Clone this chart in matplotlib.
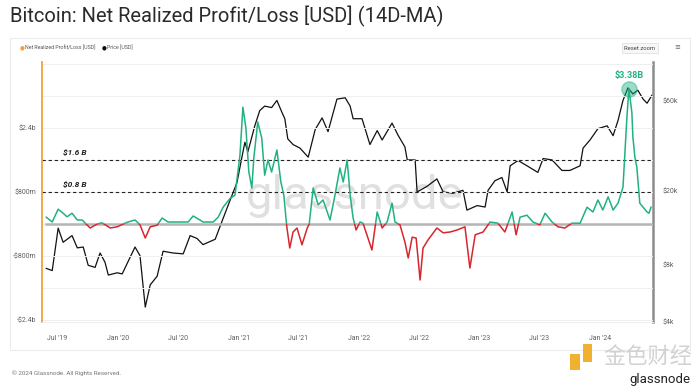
import numpy as np
import pandas as pd
import matplotlib
matplotlib.use("Agg")
import matplotlib.pyplot as plt
import matplotlib.dates as mdates
from matplotlib.patches import Rectangle
from matplotlib.ticker import FixedLocator, NullLocator

# ---- data (approximate) ----
price_dates = [
    "2019-05-29", "2019-06-16", "2019-07-04", "2019-07-19", "2019-08-15", "2019-08-31",
    "2019-09-18", "2019-10-03", "2019-10-24", "2019-11-08", "2019-11-23", "2019-12-03",
    "2019-12-30", "2020-01-14", "2020-02-22", "2020-03-08", "2020-03-24", "2020-04-08",
    "2020-04-29", "2020-05-17", "2020-06-16", "2020-07-17", "2020-08-07", "2020-08-28",
    "2020-09-15", "2020-10-22", "2020-11-15", "2020-12-06", "2020-12-27", "2021-01-11",
    "2021-01-20", "2021-01-29", "2021-02-19", "2021-03-06", "2021-03-21", "2021-04-11",
    "2021-04-27", "2021-05-12", "2021-05-21", "2021-05-30", "2021-06-15", "2021-07-06",
    "2021-07-31", "2021-08-21", "2021-09-11", "2021-09-29", "2021-10-26", "2021-11-20",
    "2021-12-05", "2021-12-14", "2022-01-10", "2022-02-03", "2022-02-25", "2022-03-12",
    "2022-04-11", "2022-04-29", "2022-05-20", "2022-05-27", "2022-06-20", "2022-06-26",
    "2022-07-26", "2022-08-25", "2022-09-13", "2022-10-13", "2022-11-12", "2022-11-24",
    "2022-12-25", "2023-01-18", "2023-01-27", "2023-02-17", "2023-03-10", "2023-03-26",
    "2023-04-04", "2023-04-28", "2023-05-25", "2023-06-27", "2023-07-13", "2023-08-09",
    "2023-09-08", "2023-10-02", "2023-11-02", "2023-11-11", "2023-12-02", "2023-12-26",
    "2024-01-23", "2024-02-10", "2024-02-25", "2024-03-11", "2024-03-26", "2024-04-10",
    "2024-04-25", "2024-05-11", "2024-05-23", "2024-06-07",
]
price_usd = [
    7700, 7500, 12600, 10600, 11500, 9900,
    10000, 8000, 7800, 9300, 8300, 7100,
    7300, 7200, 10000, 9000, 4800, 6300,
    7000, 9500, 9300, 9200, 11500, 11100,
    10300, 11000, 14200, 17700, 22000, 30000,
    36000, 32000, 44000, 53000, 56000, 55000,
    60000, 52000, 48000, 37500, 35000, 33500,
    30000, 42000, 48500, 41000, 61000, 62000,
    56000, 48000, 48000, 35000, 41500, 37000,
    45500, 39300, 34000, 29000, 29000, 19600,
    21000, 23000, 19600, 19300, 20000, 15700,
    16600, 16300, 20000, 22500, 23400, 19600,
    27000, 28800, 27000, 24900, 29500, 29000,
    25500, 25500, 27000, 33500, 37000, 42500,
    44000, 39000, 47000, 60000, 70000, 65000,
    68000, 61000, 58000, 64000,
]

nrpl_dates = [
    "2019-05-29", "2019-06-16", "2019-07-04", "2019-07-19", "2019-07-31", "2019-08-15",
    "2019-08-31", "2019-09-15", "2019-09-24", "2019-10-09", "2019-10-30", "2019-11-14",
    "2019-12-09", "2019-12-30", "2020-01-17", "2020-02-01", "2020-02-22", "2020-03-08",
    "2020-03-24", "2020-04-08", "2020-04-29", "2020-05-14", "2020-06-01", "2020-07-08",
    "2020-08-01", "2020-08-16", "2020-09-06", "2020-09-15", "2020-10-16", "2020-10-31",
    "2020-11-15", "2020-12-06", "2020-12-21", "2021-01-05", "2021-01-14", "2021-01-23",
    "2021-02-01", "2021-02-10", "2021-02-16", "2021-02-28", "2021-03-12", "2021-03-21",
    "2021-03-31", "2021-04-11", "2021-04-27", "2021-05-09", "2021-05-18", "2021-05-27",
    "2021-06-05", "2021-06-15", "2021-06-27", "2021-07-12", "2021-07-28", "2021-08-03",
    "2021-08-15", "2021-08-30", "2021-09-14", "2021-10-05", "2021-10-20", "2021-11-04",
    "2021-11-14", "2021-11-26", "2021-12-05", "2021-12-14", "2021-12-23", "2022-01-04",
    "2022-01-13", "2022-01-28", "2022-02-09", "2022-02-25", "2022-03-12", "2022-03-27",
    "2022-04-11", "2022-04-20", "2022-05-05", "2022-05-20", "2022-05-30", "2022-06-11",
    "2022-06-23", "2022-07-05", "2022-07-14", "2022-07-29", "2022-08-25", "2022-09-13",
    "2022-10-04", "2022-10-25", "2022-11-18", "2022-12-03", "2022-12-19", "2023-01-12",
    "2023-02-02", "2023-02-26", "2023-03-19", "2023-04-10", "2023-04-22", "2023-05-04",
    "2023-05-25", "2023-06-12", "2023-07-03", "2023-07-19", "2023-08-09", "2023-08-27",
    "2023-09-17", "2023-10-08", "2023-11-02", "2023-11-23", "2023-12-11", "2023-12-26",
    "2024-01-10", "2024-01-26", "2024-02-10", "2024-02-25", "2024-03-11", "2024-03-23",
    "2024-03-29", "2024-04-07", "2024-04-10", "2024-04-16", "2024-04-22", "2024-05-01",
    "2024-05-11", "2024-05-23", "2024-05-29", "2024-06-04",
]
nrpl_busd = [
    0.17, 0.05, 0.37, 0.27, 0.18, 0.27,
    0.10, 0.10, 0.02, -0.10, 0.00, 0.03,
    -0.10, -0.07, 0.00, 0.05, 0.10, -0.02,
    -0.35, -0.07, -0.03, 0.15, 0.05, 0.05,
    0.05, 0.20, 0.10, 0.05, 0.05, 0.17,
    0.42, 0.64, 0.72, 1.72, 2.92, 2.40,
    1.30, 0.90, 1.65, 2.55, 2.15, 1.22,
    1.60, 1.30, 1.85, 1.05, 0.72, -0.07,
    -0.60, -0.20, -0.10, -0.52, -0.10, 0.00,
    0.90, 0.48, 0.60, 0.10, 0.72, 1.40,
    1.05, 1.60, 0.72, 0.15, -0.15, 0.05,
    0.02, -0.35, -0.65, 0.30, -0.10, 0.05,
    0.52, 0.05, -0.02, -0.45, -0.85, -0.33,
    -0.35, -1.40, -0.60, -0.40, -0.10, -0.22,
    -0.20, -0.15, -0.07, -1.10, -0.27, -0.20,
    0.05, 0.02, -0.20, 0.30, -0.27, 0.17,
    0.22, 0.05, -0.02, 0.27, 0.05, -0.07,
    -0.10, 0.02, 0.02, 0.42, 0.30, 0.60,
    0.35, 0.68, 0.35, 0.52, 0.92, 2.68,
    3.38, 2.78, 2.18, 1.68, 1.42, 0.52,
    0.42, 0.30, 0.27, 0.42,
]

level_values = [1.6, 0.8]
level_labels = ["$1.6 B", "$0.8 B"]
peak_label = "$3.38B"

left_ticks = [2.4, 0.8, -0.8, -2.4]
left_tick_labels = ["$2.4b", "$800m", "-$800m", "-$2.4b"]
right_ticks = [4000, 8000, 20000, 60000]
right_tick_labels = ["$4k", "$8k", "$20k", "$60k"]
x_tick_dates = ["2019-07-01", "2020-01-01", "2020-07-01", "2021-01-01", "2021-07-01",
                "2022-01-01", "2022-07-01", "2023-01-01", "2023-07-01", "2024-01-01"]
x_tick_labels = ["Jul '19", "Jan '20", "Jul '20", "Jan '21", "Jul '21",
                 "Jan '22", "Jul '22", "Jan '23", "Jul '23", "Jan '24"]

# ---- styling ----
plt.rcParams['font.family'] = ['Roboto', 'DejaVu Sans']
GREEN = '#20b283'
RED = '#d8262e'
ORANGE = '#f2a13a'
TICK_C = '#606060'

pd_price = pd.to_datetime(price_dates)
pd_nrpl = pd.to_datetime(nrpl_dates)
nrpl = np.array(nrpl_busd)

fig = plt.figure(figsize=(7.0, 3.89), dpi=100)
fig.patch.set_facecolor('white')

# outer panel
fig.patches.append(Rectangle((10 / 700, 1 - 350 / 389), 680 / 700, 312 / 389,
                             transform=fig.transFigure, facecolor='none',
                             edgecolor='#ececec', linewidth=0.8))

ax = fig.add_axes([42 / 700, 1 - 322 / 389, 611 / 700, 260 / 389])
ax.set_facecolor('none')
ax2 = ax.twinx()
ax.set_zorder(2)
ax2.set_zorder(1)
ax2.set_facecolor('white')

xmin = pd.Timestamp("2019-05-16")
xmax = pd.Timestamp("2024-06-10")
ax.set_xlim(xmin, xmax)
ax.set_ylim(-2.45, 4.05)

# faint grid
for g in np.arange(-2.4, 4.01, 0.8):
    ax.axhline(g, color='#efefef', linewidth=0.7, zorder=0)

# zero line
ax.plot([pd_nrpl[0], pd_nrpl[-1]], [0, 0], color='#b4b4b4', linewidth=1.8, zorder=1)

# dashed levels
for v, lab in zip(level_values, level_labels):
    ax.axhline(v, color='#222222', linewidth=0.8, linestyle=(0, (3, 2.5)), zorder=2)
    ax.text(pd.Timestamp("2019-07-20"), v + 0.1, lab, fontsize=6, fontweight='bold',
            fontstyle='italic', color='#222222', va='bottom', ha='left', zorder=3)

# NRPL line: green above zero, red below, using clip rectangles
pos_line, = ax.plot(pd_nrpl, nrpl, color=GREEN, linewidth=1.1, zorder=4)
neg_line, = ax.plot(pd_nrpl, nrpl, color=RED, linewidth=1.1, zorder=4)
x0 = mdates.date2num(xmin)
x1 = mdates.date2num(xmax)
pos_line.set_clip_path(Rectangle((x0, 0), x1 - x0, 10, transform=ax.transData))
neg_line.set_clip_path(Rectangle((x0, -10), x1 - x0, 10, transform=ax.transData))

# peak marker
ipk = int(np.argmax(nrpl))
ax.plot(pd_nrpl[ipk], nrpl[ipk], 'o', markersize=11, markerfacecolor=GREEN,
        markeredgecolor=GREEN, alpha=0.45, zorder=5)
ax.text(pd_nrpl[ipk], nrpl[ipk] + 0.22, peak_label, color=GREEN, fontsize=6.5,
        fontweight='bold', ha='center', va='bottom', zorder=6)

# price on log right axis
ax2.plot(pd_price, price_usd, color='#111111', linewidth=0.9)
ax2.set_yscale('log')
ax2.set_ylim(4000, 96000)
ax2.yaxis.set_major_locator(FixedLocator(right_ticks))
ax2.yaxis.set_minor_locator(NullLocator())
ax2.set_yticklabels(right_tick_labels)

# axes cosmetics
ax.set_yticks(left_ticks)
ax.set_yticklabels(left_tick_labels)
ax.set_xticks(pd.to_datetime(x_tick_dates))
ax.set_xticklabels(x_tick_labels)
ax.tick_params(axis='both', length=0, labelsize=5, colors=TICK_C)
ax.tick_params(axis='x', pad=9)
ax.tick_params(axis='y', pad=4)
ax2.tick_params(axis='y', length=0, labelsize=5, colors=TICK_C, pad=7)

for a in (ax, ax2):
    for s in ('top', 'bottom', 'right', 'left'):
        a.spines[s].set_visible(False)
ax.spines['left'].set_visible(True)
ax.spines['left'].set_color(ORANGE)
ax.spines['left'].set_linewidth(1.3)
ax2.spines['right'].set_visible(True)
ax2.spines['right'].set_color('#8c8c8c')
ax2.spines['right'].set_linewidth(1.8)
ax.spines['bottom'].set_visible(True)
ax.spines['bottom'].set_color('#eeeeee')
ax.spines['bottom'].set_linewidth(0.8)

# watermark
fig.text(355 / 700, 1 - 196 / 389, "glassnode", fontsize=34, color='#d9d9d9', alpha=0.8,
         ha='center', va='center', zorder=0)

# title and legend
fig.text(10 / 700, 1 - 16 / 389, "Bitcoin: Net Realized Profit/Loss [USD] (14D-MA)",
         fontsize=14.5, color='#2b2b2b', ha='left', va='center')
fig.text(20 / 700, 1 - 48 / 389, "\u25CF", fontsize=4, color=ORANGE, ha='left', va='center')
fig.text(25 / 700, 1 - 48 / 389, "Net Realized Profit/Loss [USD]", fontsize=3.8,
         color='#555555', ha='left', va='center')
fig.text(102 / 700, 1 - 48 / 389, "\u25CF", fontsize=4, color='#111111', ha='left', va='center')
fig.text(107 / 700, 1 - 48 / 389, "Price [USD]", fontsize=3.8, color='#555555',
         ha='left', va='center')
fig.text(640 / 700, 1 - 48 / 389, "Reset zoom", fontsize=4.2, color='#444444',
         ha='center', va='center',
         bbox=dict(boxstyle='square,pad=0.5', facecolor='#f7f7f7', edgecolor='#dddddd',
                   linewidth=0.5))
fig.text(677 / 700, 1 - 48 / 389, "\u2261", fontsize=5, color='#666666',
         ha='center', va='center')

# footer
fig.text(12 / 700, 1 - 373 / 389, "\u00A9 2024 Glassnode. All Rights Reserved.",
         fontsize=4.5, color='#777777', ha='left', va='center')
fig.patches.append(Rectangle((570 / 700, 1 - 370 / 389), 10 / 700, 16 / 389,
                             transform=fig.transFigure, facecolor='#f0b030',
                             edgecolor='none'))
fig.patches.append(Rectangle((583 / 700, 1 - 362 / 389), 9 / 700, 18 / 389,
                             transform=fig.transFigure, facecolor='#f0b030',
                             edgecolor='none'))
fig.text(648 / 700, 1 - 356 / 389, "金色财经", fontsize=16, color='#d2d2d2',
         ha='center', va='center', family=['Noto Sans CJK SC', 'DejaVu Sans'])
fig.text(690 / 700, 1 - 379 / 389, "glassnode", fontsize=9.5, color='#222222',
         ha='right', va='center')

fig.savefig("out.png", dpi=100, facecolor='white')
